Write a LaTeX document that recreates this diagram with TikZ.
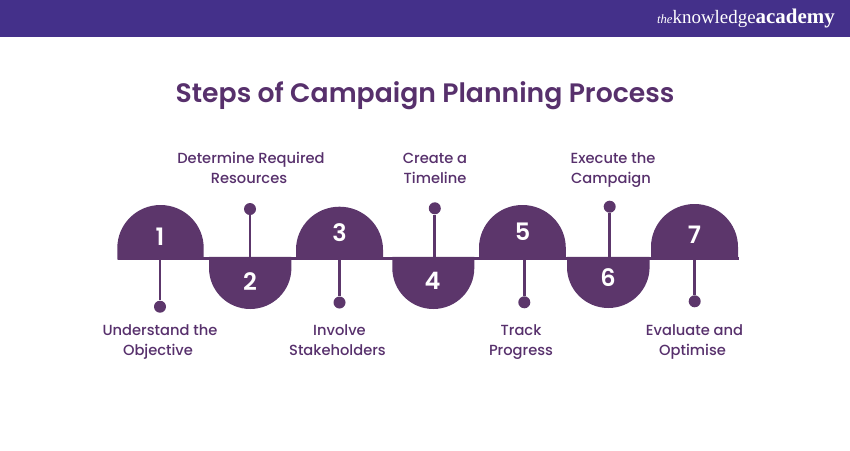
\documentclass[tikz,border=0pt]{standalone}
\usepackage{fontspec}
\setmainfont{Poppins}
\newfontfamily\titlefont{Poppins}[UprightFont=* SemiBold]
\newfontfamily\labelfont{Poppins}[UprightFont=* Medium]
\newfontfamily\logofont{Liberation Serif}
\definecolor{plum}{HTML}{5C366B}
\definecolor{banner}{HTML}{44308A}
\definecolor{heading}{HTML}{57306C}
\tikzset{
  px/.style={x=0.75pt,y=-0.75pt},
  dome/.style={fill=plum,draw=none},
  stem/.style={draw=plum,line width=2.1pt},
  pin/.style={circle,fill=plum,inner sep=0pt,minimum size=9pt},
  digit/.style={text=white,font=\titlefont\fontsize{18}{20}\selectfont,inner sep=0pt},
  caption/.style={text=heading,font=\labelfont\fontsize{11}{15}\selectfont,align=center,inner sep=0pt},
}
\begin{document}
\begin{tikzpicture}[px]
\useasboundingbox (0,0) rectangle (850,450);
% header band and wordmark
\fill[banner] (0,0) rectangle (850,36.5);
\node[anchor=base east,inner sep=0pt,text=white,font=\logofont\fontsize{15.7}{18}\selectfont] (logo) at (835,23.5)
  {{\itshape\fontsize{9.5}{12}\selectfont the}{\fontsize{14.2}{18}\selectfont knowledge}\textbf{academy}};
% heading
\node[text=heading,font=\titlefont\fontsize{20}{25}\selectfont,inner sep=0pt] (title) at (425,96) {Steps of Campaign Planning Process};

% baseline joining the half discs
\fill[plum] (117.5,256.8) rectangle (739,259.6);

% upper half discs
\fill[dome] (117.3,259.6) -- (117.3,248) arc[start angle=180,end angle=360,x radius=43.2,y radius=43] -- (203.7,259.6) -- cycle;
\fill[dome] (296,259.6) -- (296,249.7) arc[start angle=180,end angle=360,x radius=43.5,y radius=43] -- (383,259.6) -- cycle;
\fill[dome] (479,259.6) -- (479,248) arc[start angle=180,end angle=360,x radius=43.4,y radius=43] -- (565.8,259.6) -- cycle;
\fill[dome] (651,259.6) -- (651,247) arc[start angle=180,end angle=360,x radius=43.5,y radius=43] -- (738,259.6) -- cycle;

% lower half discs
\fill[dome] (209,256.8) -- (209,268) arc[start angle=180,end angle=0,x radius=41.2,y radius=41] -- (291.4,256.8) -- cycle;
\fill[dome] (392.3,256.8) -- (392.3,268) arc[start angle=180,end angle=0,x radius=41,y radius=41] -- (474.3,256.8) -- cycle;
\fill[dome] (567,256.8) -- (567,267) arc[start angle=180,end angle=0,x radius=41.3,y radius=41] -- (649.6,256.8) -- cycle;

% step numbers
\node[digit] (n1) at (160,237) {1};
\node[digit] (n2) at (250,282) {2};
\node[digit] (n3) at (339.5,232.5) {3};
\node[digit] (n4) at (432.5,281) {4};
\node[digit] (n5) at (522.5,232) {5};
\node[digit] (n6) at (608,277.5) {6};
\node[digit] (n7) at (694.5,235) {7};

% pins
\node[pin] (p1) at (160,306.7) {};
\node[pin] (p2) at (250,209) {};
\node[pin] (p3) at (339.5,302.5) {};
\node[pin] (p4) at (434.8,208.3) {};
\node[pin] (p5) at (524.3,302.3) {};
\node[pin] (p6) at (609.7,206.7) {};
\node[pin] (p7) at (694.7,301.3) {};

% stems start on the baseline
\coordinate (b1) at (160,259);
\coordinate (b2) at (250,257);
\coordinate (b3) at (339.5,259);
\coordinate (b4) at (434.8,257);
\coordinate (b5) at (524.3,259);
\coordinate (b6) at (609.7,257);
\coordinate (b7) at (694.7,259);
\foreach \i in {1,...,7} \draw[stem] (b\i) -- (p\i);

% step captions; a kern nudges the second line off centre where needed
\node[caption] (c1) at (160,342) {Understand the\\Objective\kern3pt};
\node[caption] (c2) at (251,168) {Determine Required\\Resources\kern3pt};
\node[caption] (c3) at (337.5,340) {\kern3pt Involve\\Stakeholders};
\node[caption] (c4) at (435,168) {Create a\\Timeline};
\node[caption] (c5) at (521,342) {Track\\Progress};
\node[caption] (c6) at (613,170) {Execute the\\Campaign\kern3pt};
\node[caption] (c7) at (694.5,342) {Evaluate and\\Optimise\kern3pt};
\end{tikzpicture}
\end{document}
